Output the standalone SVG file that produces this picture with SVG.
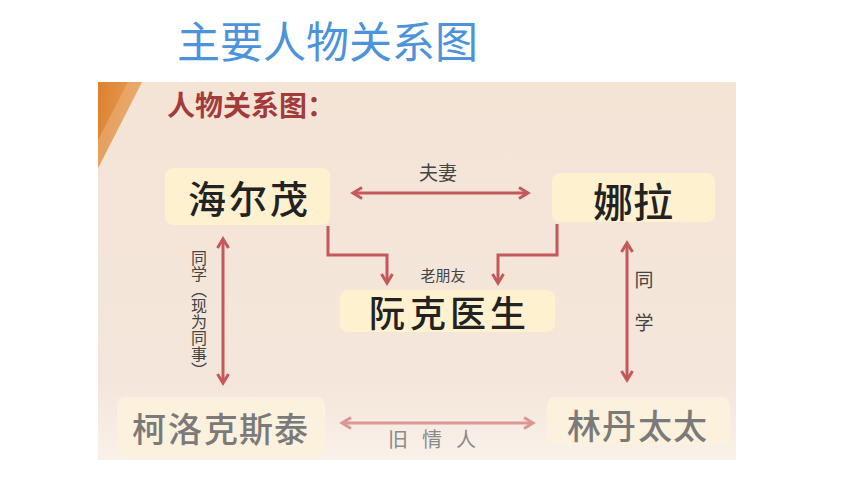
<svg xmlns="http://www.w3.org/2000/svg" width="860" height="484" viewBox="0 0 860 484">
<defs>
<linearGradient id="bg" x1="0" y1="0" x2="0" y2="1">
<stop offset="0" stop-color="#f3e4d6"/>
<stop offset="0.8" stop-color="#f4e6da"/>
<stop offset="1" stop-color="#f9f1ea"/>
</linearGradient>
<linearGradient id="orange" x1="0" y1="0" x2="1" y2="0.3">
<stop offset="0" stop-color="#dc7f2c"/>
<stop offset="1" stop-color="#e9a35f"/>
</linearGradient>
<marker id="ah" viewBox="0 0 14 14" refX="12" refY="7" markerWidth="14" markerHeight="14" orient="auto-start-reverse" markerUnits="userSpaceOnUse" overflow="visible">
<path d="M3,1.5 L12,7 L3,12.5" fill="none" stroke="#c4585a" stroke-width="3" stroke-linejoin="miter"/>
</marker>
<marker id="ahl" viewBox="0 0 14 14" refX="12" refY="7" markerWidth="14" markerHeight="14" orient="auto-start-reverse" markerUnits="userSpaceOnUse" overflow="visible">
<path d="M3,1.5 L12,7 L3,12.5" fill="none" stroke="#dc9696" stroke-width="3"/>
</marker>
</defs>
<style>
.title{font-family:"Noto Sans CJK SC","Noto Sans",sans-serif;font-size:43px;fill:#4d93dc}
.sub{font-family:"Noto Sans CJK SC",sans-serif;font-size:28px;font-weight:bold;fill:#a23b3b}
.box{fill:#fdf1d0}
.boxl{fill:#fcf1dc}
.name{font-family:"Noto Sans CJK SC",sans-serif;font-weight:500;fill:#222;text-anchor:middle}
.namel{font-family:"Noto Sans CJK SC",sans-serif;font-weight:500;fill:#7a7a7a;text-anchor:middle}
.lbl{font-family:"Noto Sans CJK SC",sans-serif;fill:#444;text-anchor:middle}
.lblg{font-family:"Noto Sans CJK SC",sans-serif;fill:#8a8a8a;text-anchor:middle}
.ln{fill:none;stroke:#c4585a;stroke-width:3}
.lnl{fill:none;stroke:#dc9696;stroke-width:3}
</style>
<rect width="860" height="484" fill="#ffffff"/>
<text class="title" x="177" y="58">主要人物关系图</text>
<rect x="98" y="82" width="638" height="378" fill="url(#bg)"/>
<polygon points="98,82 142,82 98,168" fill="url(#orange)"/>
<polygon points="128,82 142,82 98,168 98,140" fill="#eab07a" opacity="0.6"/>
<text class="sub" x="167" y="116">人物关系图：</text>

<g id="connectors">
<line class="ln" x1="353" y1="193" x2="528" y2="193" marker-start="url(#ah)" marker-end="url(#ah)"/>
<polyline class="ln" points="328,226 328,255 387,255 387,283" marker-end="url(#ah)"/>
<polyline class="ln" points="557,224 557,255 498,255 498,283" marker-end="url(#ah)"/>
<line class="ln" x1="223" y1="239" x2="223" y2="383" marker-start="url(#ah)" marker-end="url(#ah)"/>
<line class="ln" x1="627" y1="243" x2="627" y2="380" marker-start="url(#ah)" marker-end="url(#ah)"/>
<line class="lnl" x1="342" y1="423" x2="533" y2="423" marker-start="url(#ahl)" marker-end="url(#ahl)"/>
<text class="lbl" x="438" y="180" font-size="19">夫妻</text>
<text class="lbl" x="443" y="281" font-size="15">老朋友</text>
<text class="lbl" font-size="16" x="199 199 199 199 199 199 199 199" y="264 280 296 312 328 344 360 376">同学︵现为同事︶</text>
<text class="lbl" x="644" y="287" font-size="19">同</text>
<text class="lbl" x="644" y="330" font-size="19">学</text>
<text class="lblg" x="398 432 466" y="447" font-size="20">旧情人</text>
</g>

<g id="n-helmer">
<rect class="box" x="165" y="168" width="165" height="57" rx="8"/>
<text class="name" x="207 248 289" y="213" font-size="38">海尔茂</text>
</g>
<g id="n-nora">
<rect class="box" x="552" y="173" width="163" height="49" rx="8"/>
<text class="name" x="613 653" y="217" font-size="40">娜拉</text>
</g>
<g id="n-rank">
<rect class="box" x="340" y="290" width="215" height="42" rx="8"/>
<text class="name" x="387 428 468 508" y="327" font-size="36">阮克医生</text>
</g>
<g id="n-krogstad">
<rect class="boxl" x="117" y="397" width="208" height="60" rx="8"/>
<text class="namel" x="149 185 221 256 291" y="442" font-size="34">柯洛克斯泰</text>
</g>
<g id="n-linde">
<rect class="boxl" x="547" y="397" width="183" height="48" rx="8"/>
<text class="namel" x="584 619 655 690" y="439" font-size="34">林丹太太</text>
</g>
</svg>
